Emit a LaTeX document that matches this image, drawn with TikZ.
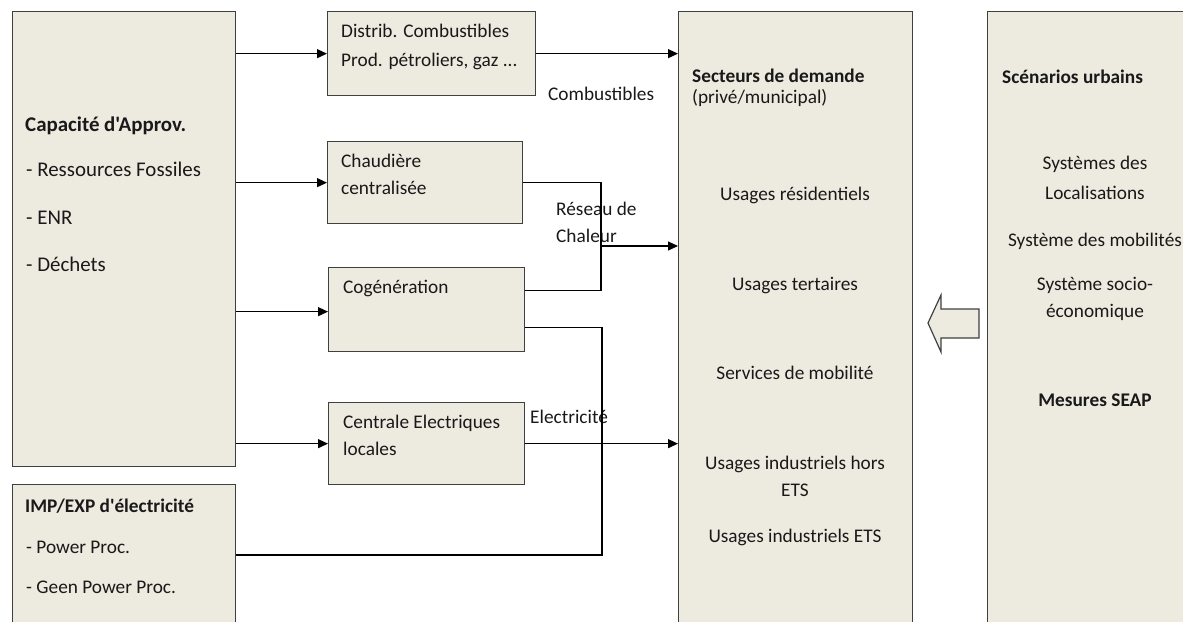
\documentclass[tikz,border=0pt]{standalone}
\usepackage{fontspec}
\setmainfont{Carlito}[Ligatures=TeXOff]
\usetikzlibrary{arrows.meta}
\definecolor{boxfill}{RGB}{237,234,224}
\definecolor{boxline}{RGB}{64,64,64}
\definecolor{txt}{RGB}{25,25,25}
\begin{document}
\begin{tikzpicture}[x=1pt,y=-1pt,
  box/.style={draw=boxline,fill=boxfill,line width=1.3pt,rectangle,inner sep=0pt,anchor=north west},
  lbl/.style={inner sep=0pt,anchor=base west,text=txt,font=\fontsize{19.3}{23}\selectfont},
  biglbl/.style={lbl,font=\fontsize{20.9}{25}\selectfont},
  bigblbl/.style={lbl,font=\fontsize{20.9}{25}\selectfont\bfseries},
  clbl/.style={inner sep=0pt,anchor=base,text=txt,font=\fontsize{19.3}{23}\selectfont},
  blbl/.style={lbl,font=\fontsize{19.3}{23}\selectfont\bfseries},
  cblbl/.style={clbl,font=\fontsize{19.3}{23}\selectfont\bfseries},
  conn/.style={draw=black,line width=1.2pt},
  arr/.style={conn,-{Triangle[length=10pt,width=9pt]}}]
\path[use as bounding box] (0,0) rectangle (1183,621);
\clip (0,0) rectangle (1183,621);
% boxes
\node[box,minimum width=223,minimum height=455] (cap) at (12,11) {};
\node[box,minimum width=223,minimum height=220] (imp) at (12,484) {};
\node[box,minimum width=208,minimum height=84] (dist) at (327,11) {};
\node[box,minimum width=195,minimum height=82] (chaud) at (327,141) {};
\node[box,minimum width=196,minimum height=84] (cog) at (328,267) {};
\node[box,minimum width=196,minimum height=82] (cent) at (328,402) {};
\node[box,minimum width=234,minimum height=640] (sect) at (678,11) {};
\node[box,minimum width=260,minimum height=640] (scen) at (987,11) {};
% texts left
\node[bigblbl] (t1) at (25,131) {Capacité d'Approv.};
\node[biglbl] (t2) at (26,176) {- Ressources Fossiles};
\node[biglbl] (t3) at (26,224) {- ENR};
\node[biglbl] (t4) at (26,271) {- Déchets};
\node[blbl] (t5) at (25,512) {IMP/EXP d'électricité};
\node[lbl] (t6) at (26,553) {- Power Proc.};
\node[lbl] (t7) at (26,593) {- Geen Power Proc.};
% middle texts
\node[lbl] (t8) at (341,37) {Distrib. Combustibles};
\node[lbl] (t9) at (341,66) {Prod. pétroliers, gaz ...};
\node[lbl] (t10) at (341,167) {Chaudière};
\node[lbl] (t11) at (341,194) {centralisée};
\node[lbl] (t12) at (343,293) {Cogénération};
\node[lbl] (t13) at (343,428) {Centrale Electriques};
\node[lbl] (t14) at (343,455) {locales};
\node[lbl] (t15) at (548,100) {Combustibles};
\node[lbl] (t16) at (556,215) {Réseau de};
\node[lbl] (t17) at (556,242) {Chaleur};
\node[lbl] (t18) at (530,423) {Electricité};
% secteurs
\node[blbl] (t19) at (692,82) {Secteurs de demande};
\node[lbl] (t20) at (692,103) {(privé/municipal)};
\node[clbl] (t21) at (795,200) {Usages résidentiels};
\node[clbl] (t22) at (795,290) {Usages tertaires};
\node[clbl] (t23) at (795,379) {Services de mobilité};
\node[clbl] (t24) at (795,469) {Usages industriels hors};
\node[clbl] (t25) at (795,496) {ETS};
\node[clbl] (t26) at (795,542) {Usages industriels ETS};
% scenarios
\node[blbl] (t27) at (1002,83) {Scénarios urbains};
\node[clbl] (t28) at (1095,169) {Systèmes des};
\node[clbl] (t29) at (1095,199) {Localisations};
\node[clbl] (t30) at (1095,246) {Système des mobilités};
\node[clbl] (t31) at (1095,290) {Système socio-};
\node[clbl] (t32) at (1095,317) {économique};
\node[cblbl] (t33) at (1095,406) {Mesures SEAP};
% connectors
\coordinate (hj) at (601,246);
\coordinate (ej) at (602,555);
\draw[arr] (cap.east |- dist.west) -- (dist.west);
\draw[arr] (cap.east |- chaud.west) -- (chaud.west);
\draw[arr] ([yshift=-2pt]cap.east |- cog.west) -- ([yshift=-2pt]cog.west);
\draw[arr] (cap.east |- cent.west) -- (cent.west);
\draw[arr] (dist.east) -- (dist.east -| sect.west);
\draw[conn] (chaud.east) -| (hj);
\draw[conn] ([yshift=19pt]cog.east) -| (hj);
\draw[arr] (hj) -- (hj -| sect.west);
\draw[conn] ([yshift=-18pt]cog.east) -| (ej) -- (ej -| imp.east);
\draw[arr] (cent.east) -- (cent.east -| sect.west);
% block arrow
\draw[draw=boxline,fill=boxfill,line width=1.2pt,line join=miter]
  (928,323) -- (941,295) -- (941,309) -- (979,309) -- (979,338) -- (941,338) -- (941,352) -- cycle;
\end{tikzpicture}
\end{document}
